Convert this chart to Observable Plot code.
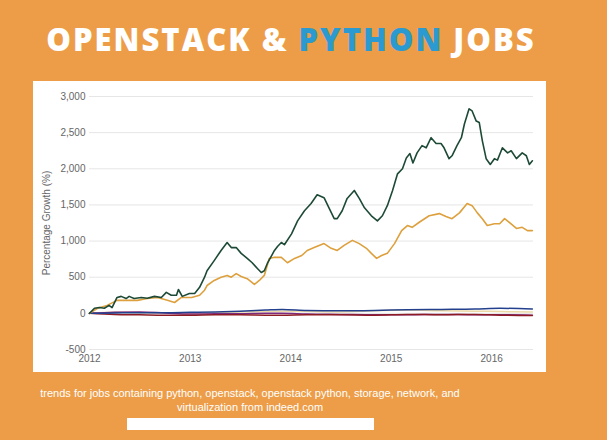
<!DOCTYPE html>
<html>
<head>
<meta charset="utf-8">
<script src="https://cdn.jsdelivr.net/npm/d3@7"></script>
<script src="https://cdn.jsdelivr.net/npm/@observablehq/plot@0.6"></script>
<style>
  html, body { margin: 0; padding: 0; }
  body { width: 607px; height: 440px; background: #ED9D47; position: relative; overflow: hidden; font-family: "Liberation Sans", Arial, sans-serif; }
  #title { position: absolute; left: 0; width: 582px; top: 24px; text-align: center; font-family: "Open Sans", sans-serif; font-weight: 800; font-size: 31px; line-height: 31px; color: #fff; letter-spacing: 2px; white-space: nowrap; }
  #title .blue { color: #2A9AD0; }
  #panel { position: absolute; left: 33px; top: 81px; width: 513px; height: 291px; background: #fff; }
  #caption { position: absolute; left: 0; width: 500px; top: 386px; text-align: center; color: #fff; font-size: 11px; line-height: 14px; }
  #bar { position: absolute; left: 127px; top: 418px; width: 247px; height: 12px; background: #fff; }
</style>
</head>
<body>
<div id="title">OPENSTACK &amp; <span class="blue">PYTHON</span> JOBS</div>
<div id="panel"></div>
<div id="caption">trends for jobs containing python, openstack, openstack python, storage, network, and<br>virtualization from indeed.com</div>
<div id="bar"></div>
<script>
// Dark green series
const greenDates = ["2012-01-01","2012-01-19","2012-02-06","2012-02-24","2012-03-12","2012-03-23","2012-04-10","2012-04-25","2012-05-13","2012-05-24","2012-06-11","2012-07-07","2012-07-29","2012-08-24","2012-09-18","2012-10-06","2012-10-24","2012-11-12","2012-11-19","2012-12-03","2012-12-29","2013-01-17","2013-02-04","2013-02-22","2013-03-03","2013-03-29","2013-04-23","2013-05-15","2013-05-30","2013-06-17","2013-07-05","2013-07-27","2013-08-14","2013-09-02","2013-09-16","2013-09-27","2013-10-08","2013-11-03","2013-11-14","2013-11-28","2013-12-09","2014-01-04","2014-01-26","2014-02-20","2014-03-16","2014-04-07","2014-05-02","2014-05-20","2014-06-08","2014-06-19","2014-07-07","2014-07-25","2014-08-20","2014-09-07","2014-09-26","2014-10-21","2014-11-12","2014-11-30","2014-12-18","2015-01-06","2015-01-24","2015-02-11","2015-02-25","2015-03-10","2015-03-21","2015-04-05","2015-04-23","2015-05-08","2015-05-26","2015-06-13","2015-07-01","2015-07-12","2015-07-30","2015-08-10","2015-08-28","2015-09-13","2015-09-24","2015-10-11","2015-10-22","2015-11-06","2015-11-17","2015-11-28","2015-12-12","2015-12-27","2016-01-11","2016-01-22","2016-02-09","2016-02-28","2016-03-12","2016-03-31","2016-04-21","2016-05-06","2016-05-17","2016-05-28"];
const greenValues = [0,70,80,70,110,80,220,235,205,235,205,220,210,235,220,290,250,250,330,235,275,275,360,500,590,730,870,980,910,910,830,760,700,620,565,590,690,870,925,980,950,1100,1280,1420,1520,1640,1600,1460,1310,1310,1420,1590,1700,1590,1460,1350,1280,1350,1490,1700,1930,2000,2150,2210,2080,2220,2320,2290,2430,2350,2350,2290,2140,2180,2320,2430,2620,2830,2800,2660,2640,2390,2140,2060,2140,2120,2290,2220,2250,2140,2220,2180,2060,2110];

// Orange series
const orangeDates = ["2012-01-01","2012-01-30","2012-03-05","2012-04-10","2012-05-17","2012-06-23","2012-07-29","2012-09-04","2012-10-10","2012-11-05","2012-11-30","2013-01-06","2013-02-04","2013-02-22","2013-03-03","2013-03-29","2013-04-23","2013-05-15","2013-05-30","2013-06-17","2013-07-05","2013-07-27","2013-08-22","2013-09-09","2013-09-27","2013-10-15","2013-11-03","2013-11-28","2013-12-20","2014-01-15","2014-02-10","2014-03-02","2014-03-27","2014-05-02","2014-05-28","2014-06-19","2014-07-14","2014-08-13","2014-09-07","2014-10-03","2014-10-21","2014-11-09","2014-11-27","2014-12-18","2015-01-13","2015-02-08","2015-03-01","2015-03-18","2015-04-13","2015-05-19","2015-06-25","2015-07-19","2015-08-10","2015-09-06","2015-10-04","2015-10-22","2015-11-10","2015-11-28","2015-12-16","2016-01-11","2016-01-30","2016-02-17","2016-03-05","2016-03-31","2016-04-21","2016-05-10","2016-05-28"];
const orangeValues = [0,70,110,180,180,180,205,220,180,150,220,220,250,320,385,455,500,525,500,550,510,480,400,455,525,760,775,775,700,760,800,870,910,965,900,870,940,1010,965,900,830,760,800,830,965,1145,1215,1190,1260,1350,1380,1340,1310,1390,1520,1490,1390,1310,1215,1240,1240,1310,1260,1175,1190,1145,1145];

// Near-zero series (shared dates)
const flatDates = ["2012-01-01","2012-04-01","2012-07-01","2012-10-01","2013-01-01","2013-04-01","2013-07-01","2013-10-01","2013-12-01","2014-03-01","2014-07-01","2014-11-01","2015-03-01","2015-07-01","2015-11-01","2016-02-01","2016-05-28"];
const navyValues   = [0,5,10,10,15,20,30,45,55,40,35,40,50,55,60,70,60];
const beigeValues  = [0,15,10,5,5,10,20,25,30,25,20,35,45,35,30,25,20];
const maroonValues = [0,-15,-20,-25,-25,-20,-20,-25,-25,-20,-20,-25,-15,-20,-15,-25,-30];
const purpleValues = [0,15,20,5,-10,-5,-5,0,0,-10,-15,-20,-20,-15,-20,-20,-25];

const yTicks = [-500, 0, 500, 1000, 1500, 2000, 2500, 3000];
const xTicks = ["2012-01-01","2013-01-01","2014-01-01","2015-01-01","2016-01-01"];

const toRows = (dates, values) => dates.map((d, i) => ({date: new Date(d), value: values[i]}));
const green = toRows(greenDates, greenValues);
const orange = toRows(orangeDates, orangeValues);
const navy = toRows(flatDates, navyValues);
const beige = toRows(flatDates, beigeValues);
const maroon = toRows(flatDates, maroonValues);
const purple = toRows(flatDates, purpleValues);

const fmt = d3.format(",");
const chart = Plot.plot({
  width: 513,
  height: 291,
  marginLeft: 56,
  marginRight: 13,
  marginTop: 15,
  marginBottom: 23,
  style: {fontFamily: "'Liberation Sans', Arial, sans-serif", fontSize: "10px", color: "#666", background: "transparent"},
  x: {type: "utc", domain: [new Date("2012-01-01"), new Date("2016-06-01")], ticks: xTicks.map(d => new Date(d)), tickFormat: "%Y", tickSize: 0, tickPadding: 5, label: null},
  y: {domain: [-500, 3000], ticks: yTicks, tickFormat: d => fmt(d).replace("\u2212", "-"), tickSize: 0, tickPadding: 4, label: "Percentage Growth (%)", labelAnchor: "center", labelArrow: "none", labelOffset: 47},
  marks: [
    Plot.gridY(yTicks, {stroke: "#e6e6e6", strokeOpacity: 1}),
    Plot.lineY(beige, {x: "date", y: "value", stroke: "#EBD9A6", strokeWidth: 1.5, curve: "monotone-x"}),
    Plot.lineY(purple, {x: "date", y: "value", stroke: "#7B2A7E", strokeWidth: 1.5, curve: "monotone-x"}),
    Plot.lineY(maroon, {x: "date", y: "value", stroke: "#8E1B23", strokeWidth: 1.5, curve: "monotone-x"}),
    Plot.lineY(navy, {x: "date", y: "value", stroke: "#23408E", strokeWidth: 1.5, curve: "monotone-x"}),
    Plot.lineY(orange, {x: "date", y: "value", stroke: "#DDA03C", strokeWidth: 1.6}),
    Plot.lineY(green, {x: "date", y: "value", stroke: "#1D4A36", strokeWidth: 1.6})
  ]
});
document.getElementById("panel").appendChild(chart);
</script>
</body>
</html>
